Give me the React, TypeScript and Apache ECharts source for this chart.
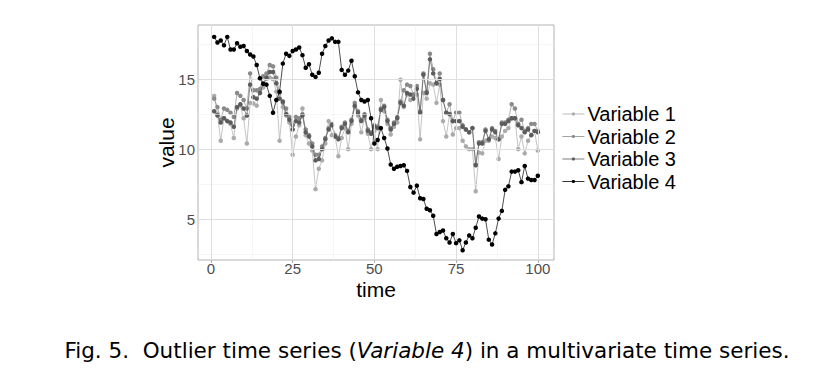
import React, { useEffect, useRef } from "react";
import * as echarts from "echarts";

const variable1 = [13.8, 12.5, 10.6, 12.2, 12.0, 11.8, 10.8, 12.9, 13.1, 12.2, 10.4, 13.3, 13.25, 13.1, 14.2, 14.4, 15.0, 15.1, 15.0, 14.1, 10.6, 13.0, 12.4, 11.9, 9.6, 10.9, 11.7, 12.9, 11.0, 10.4, 9.9, 7.15, 8.6, 9.2, 10.4, 12.0, 11.0, 10.9, 9.5, 10.8, 11.5, 10.0, 11.8, 13.0, 12.4, 11.2, 12.2, 11.1, 10.0, 11.3, 10.0, 13.5, 12.7, 11.8, 11.05, 11.6, 11.9, 14.95, 13.0, 13.9, 13.5, 13.8, 13.9, 10.7, 14.0, 13.6, 14.7, 14.6, 13.3, 14.6, 12.0, 10.9, 12.5, 11.05, 11.5, 11.5, 10.6, 10.2, 10.0, 10.0, 7.0, 9.75, 9.7, 10.6, 10.6, 10.9, 10.8, 9.3, 10.9, 11.3, 11.5, 12.2, 12.2, 10.0, 10.9, 9.7, 10.6, 11.0, 11.3, 9.9];
const variable2 = [13.6, 13.0, 12.1, 12.9, 12.8, 12.6, 12.3, 14.0, 13.8, 13.5, 12.9, 15.4, 14.2, 14.2, 14.3, 15.2, 15.4, 16.0, 15.9, 15.1, 14.0, 13.3, 12.9, 12.3, 11.7, 12.3, 12.2, 12.5, 11.4, 11.0, 10.4, 9.6, 9.6, 10.2, 10.8, 11.5, 11.8, 11.0, 10.8, 11.6, 11.9, 11.3, 12.1, 13.3, 12.7, 12.1, 12.5, 11.4, 11.2, 11.7, 11.6, 12.9, 13.1, 12.1, 11.5, 11.9, 12.3, 13.4, 14.2, 14.6, 14.5, 13.9, 14.5, 12.7, 15.4, 14.1, 16.8, 15.7, 14.7, 15.4, 13.5, 12.6, 13.2, 12.0, 12.6, 12.6, 11.7, 11.4, 11.2, 11.5, 8.9, 10.5, 10.5, 11.4, 10.7, 11.5, 11.3, 10.7, 11.9, 11.9, 12.1, 13.2, 12.9, 11.8, 12.1, 11.3, 11.5, 11.8, 11.8, 11.3];
const variable3 = [12.7, 12.4, 11.9, 12.2, 12.0, 11.9, 11.6, 13.0, 13.2, 12.9, 12.4, 14.6, 13.7, 13.6, 14.0, 14.7, 15.1, 15.5, 15.5, 14.7, 13.6, 13.4, 12.5, 12.1, 11.4, 12.0, 11.9, 12.4, 11.2, 10.9, 10.2, 9.2, 9.3, 10.0, 10.7, 11.4, 11.7, 10.9, 10.7, 11.5, 11.8, 11.2, 12.0, 13.1, 12.6, 12.0, 12.4, 11.3, 11.1, 11.6, 11.5, 12.8, 13.0, 12.0, 11.4, 11.8, 12.2, 13.3, 13.1, 14.0, 13.9, 13.6, 14.3, 12.6, 15.3, 14.0, 16.4, 15.4, 14.7, 15.0, 13.5, 12.6, 12.5, 12.0, 12.0, 12.0, 11.6, 11.4, 11.2, 11.5, 8.85, 10.4, 10.4, 11.3, 10.7, 11.4, 11.2, 10.7, 11.8, 11.8, 12.0, 12.2, 12.2, 11.7, 11.5, 11.2, 11.4, 11.0, 11.3, 11.2];
const variable4 = [18.0, 17.6, 17.75, 17.4, 18.0, 17.1, 17.1, 17.55, 17.3, 17.35, 17.0, 16.75, 16.6, 16.0, 15.05, 14.65, 14.6, 13.8, 12.6, 13.5, 14.1, 16.1, 16.8, 16.65, 17.0, 17.1, 17.25, 16.7, 15.8, 16.05, 15.3, 15.15, 15.45, 16.8, 17.35, 17.75, 17.9, 17.65, 17.65, 15.65, 15.3, 15.6, 16.3, 15.2, 14.05, 13.5, 13.4, 13.5, 12.2, 10.4, 10.65, 11.5, 10.8, 10.05, 8.9, 8.6, 8.75, 8.8, 8.85, 8.45, 7.3, 6.9, 7.4, 6.5, 6.45, 5.75, 5.65, 5.25, 3.95, 4.1, 4.2, 3.65, 3.35, 3.95, 3.3, 3.5, 2.8, 3.35, 3.85, 3.65, 4.4, 5.2, 5.05, 5.0, 3.55, 3.2, 4.0, 5.05, 5.6, 7.1, 7.35, 8.4, 8.4, 8.5, 7.65, 8.8, 7.9, 7.8, 7.8, 8.1];

const seriesNames = ["Variable 1", "Variable 2", "Variable 3", "Variable 4"];
const seriesColors = ["#ababab", "#8a8a8a", "#5c5c5c", "#000000"];
const xTicks = [0, 25, 50, 75, 100];
const xMinor = [12.5, 37.5, 62.5, 87.5];
const yTicks = [5, 10, 15];
const yMinor = [2.5, 7.5, 12.5, 17.5];

const X_MIN = -3.95;
const X_MAX = 104.95;
const Y_MIN = 2.1;
const Y_MAX = 18.85;

export default function App() {
  const ref = useRef<HTMLDivElement>(null);
  useEffect(() => {
    document.body.style.margin = "0";
    if (!ref.current) return;
    const chart = echarts.init(ref.current, undefined, { renderer: "svg" });
    const all = [variable1, variable2, variable3, variable4];
    const gridLines: any[] = [];
    xMinor.forEach((v) => gridLines.push({ xAxis: v, lineStyle: { color: "#f0f0f0", width: 0.6, type: "solid" } }));
    yMinor.forEach((v) => gridLines.push({ yAxis: v, lineStyle: { color: "#f0f0f0", width: 0.6, type: "solid" } }));
    xTicks.forEach((v) => gridLines.push({ xAxis: v, lineStyle: { color: "#dedede", width: 1, type: "solid" } }));
    yTicks.forEach((v) => gridLines.push({ yAxis: v, lineStyle: { color: "#dedede", width: 1, type: "solid" } }));

    const series: any[] = [
      {
        type: "line",
        name: "grid",
        data: [],
        silent: true,
        z: 0,
        markLine: {
          silent: true,
          symbol: "none",
          label: { show: false },
          animation: false,
          data: gridLines,
        },
      },
    ];
    all.forEach((arr, k) => {
      series.push({
        type: "line",
        name: seriesNames[k],
        data: arr.map((v, i) => [i + 1, v]),
        symbol: "circle",
        symbolSize: 4.5,
        showSymbol: true,
        lineStyle: { color: seriesColors[k], width: 0.7 },
        itemStyle: { color: seriesColors[k] },
        z: 2 + k,
      });
    });

    chart.setOption({
      animation: false,
      grid: {
        left: 198,
        top: 25,
        width: 356,
        height: 235,
        show: true,
        borderColor: "#b3b3b3",
        borderWidth: 1,
        backgroundColor: "transparent",
      },
      xAxis: {
        type: "value",
        min: X_MIN,
        max: X_MAX,
        name: "time",
        nameLocation: "middle",
        nameGap: 19,
        nameMoveOverlap: false,
        nameTextStyle: { fontSize: 21, color: "#000", fontFamily: "Liberation Sans" },
        axisLine: { show: false },
        splitLine: { show: false },
        axisTick: { show: true, customValues: xTicks, length: 3, lineStyle: { color: "#b3b3b3" } },
        axisLabel: { customValues: xTicks, fontSize: 15, color: "#4d4d4d", margin: 1, fontFamily: "Liberation Sans" },
      },
      yAxis: {
        type: "value",
        min: Y_MIN,
        max: Y_MAX,
        name: "value",
        nameLocation: "middle",
        nameGap: 21,
        nameMoveOverlap: false,
        nameRotate: 90,
        nameTextStyle: { fontSize: 21, color: "#000", fontFamily: "Liberation Sans" },
        axisLine: { show: false },
        splitLine: { show: false },
        axisTick: { show: true, customValues: yTicks, length: 3, lineStyle: { color: "#b3b3b3" } },
        axisLabel: { customValues: yTicks, fontSize: 15, color: "#4d4d4d", margin: 3, fontFamily: "Liberation Sans" },
      },
      legend: {
        data: seriesNames,
        orient: "vertical",
        left: 557,
        top: 99,
        itemWidth: 22,
        itemHeight: 4,
        itemGap: 2.5,
        lineStyle: { width: 0.8 },
        textStyle: { fontSize: 20, color: "#000", fontFamily: "Liberation Sans", lineHeight: 20, padding: [0, 0, 0, -2] },
      },
      graphic: [
        {
          type: "text",
          x: 427,
          y: 350,
          style: {
            text: "{n|Fig. 5.  Outlier time series (}{i|Variable 4}{n|) in a multivariate time series.}",
            align: "center",
            verticalAlign: "middle",
            rich: {
              n: { fontSize: 21.5, fontFamily: "DejaVu Sans", fill: "#000" },
              i: { fontSize: 21.5, fontFamily: "DejaVu Sans", fontStyle: "italic", fill: "#000" },
            },
          },
        },
      ],
      series,
    });
    return () => chart.dispose();
  }, []);
  return <div ref={ref} style={{ width: 840, height: 392 }} />;
}
